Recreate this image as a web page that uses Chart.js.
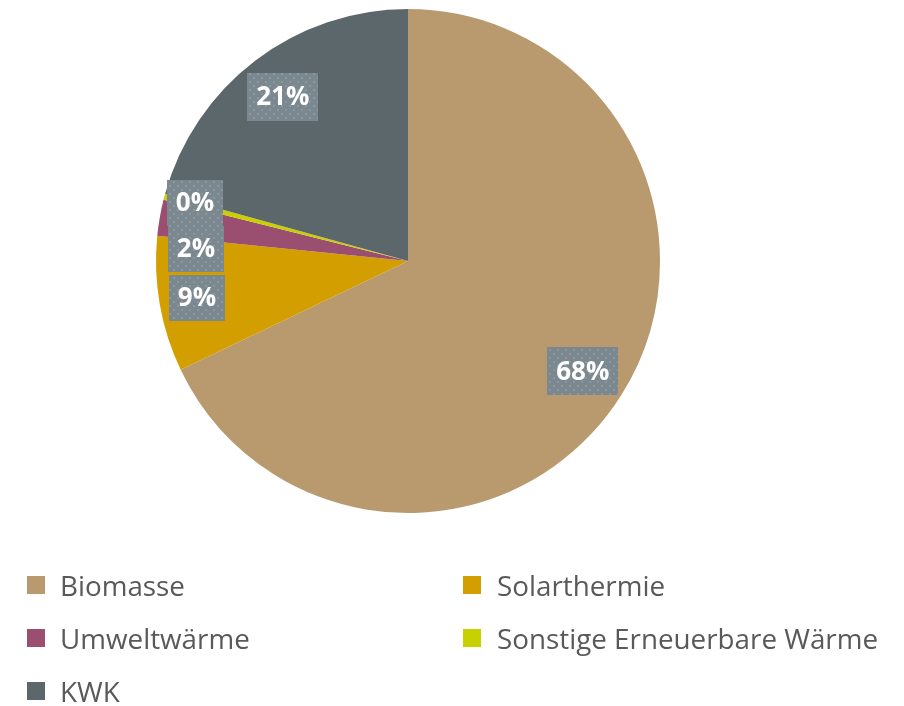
<!DOCTYPE html>
<html>
<head>
<meta charset="utf-8">
<script src="https://cdn.jsdelivr.net/npm/chart.js@4"></script>
<style>
  html, body { margin: 0; padding: 0; background: #fff; }
  #wrap { position: relative; width: 904px; height: 706px; }
  #chart { position: absolute; left: 0; top: 0; }
  .leg { position: absolute; font-family: "Open Sans", sans-serif; font-size: 27.8px; color: #595959; white-space: nowrap; line-height: 30px; }
  .leg span.box { position: absolute; width: 18px; height: 18px; top: 6px; }
</style>
</head>
<body>
<div id="wrap">
  <canvas id="chart" width="904" height="706"></canvas>
</div>
<script>
  // categories and shares (percent)
  var labels = ['Biomasse', 'Solarthermie', 'Umweltwärme', 'Sonstige Erneuerbare Wärme', 'KWK'];
  var values = [67.9, 8.7, 2.3, 0.4, 20.7];
  var colors = ['#B99A6F', '#D39E00', '#9A4E70', '#C8D000', '#5C676C'];

  // dotted grey fill for the data label boxes
  function makePattern(ctx) {
    var c = document.createElement('canvas');
    c.width = 8; c.height = 8;
    var p = c.getContext('2d');
    p.fillStyle = '#7C888F';
    p.fillRect(0, 0, 8, 8);
    p.fillStyle = '#8C979D';
    p.fillRect(1, 1, 2, 2);
    p.fillRect(5, 5, 2, 2);
    return ctx.createPattern(c, 'repeat');
  }

  // draws the percentage boxes; small slices get stacked on top of each other
  const boxLabels = {
    id: 'boxLabels',
    afterDatasetsDraw(chart) {
      const ctx = chart.ctx;
      const meta = chart.getDatasetMeta(0);
      const data = chart.data.datasets[0].data;
      const total = data.reduce((a, b) => a + b, 0);
      const pattern = makePattern(ctx);
      ctx.save();
      ctx.font = 'bold 26px "Open Sans", sans-serif';
      ctx.textAlign = 'center';
      ctx.textBaseline = 'middle';
      var placed = [];
      meta.data.forEach((arc, i) => {
        const p = arc.getProps(['x', 'y', 'startAngle', 'endAngle', 'outerRadius'], true);
        const mid = (p.startAngle + p.endAngle) / 2;
        const small = (p.endAngle - p.startAngle) < 0.6;
        const r = p.outerRadius * (small ? 0.85 : 0.82);
        var x = p.x + Math.cos(mid) * r;
        var y = p.y + Math.sin(mid) * r;
        const txt = Math.round(data[i] / total * 100) + '%';
        const w = ctx.measureText(txt).width + 18;
        const h = small ? 46 : 48;
        const prev = placed[placed.length - 1];
        if (small && prev && prev.small) {
          x = prev.x - prev.w / 2 + w / 2 - 1;
          y = prev.y - (prev.h + h) / 2 - (placed.length === 2 ? 3 : 0);
        }
        placed.push({ x: x, y: y, w: w, h: h, txt: txt, small: small });
      });
      placed.forEach((b) => {
        ctx.fillStyle = pattern;
        ctx.fillRect(Math.round(b.x - b.w / 2), Math.round(b.y - b.h / 2), Math.round(b.w), b.h);
        ctx.fillStyle = '#FFFFFF';
        ctx.fillText(b.txt, b.x, b.y + 1);
      });
      ctx.restore();
    }
  };

  const ctx = document.getElementById('chart').getContext('2d');
  const chart = new Chart(ctx, {
    type: 'pie',
    data: {
      labels: labels,
      datasets: [{
        data: values,
        backgroundColor: colors,
        borderWidth: 0
      }]
    },
    options: {
      responsive: false,
      animation: false,
      layout: { padding: { top: 9, bottom: 193, left: 156, right: 244 } },
      plugins: {
        legend: { display: false },
        tooltip: { enabled: false }
      }
    },
    plugins: [boxLabels]
  });

  // two-column legend under the pie
  const wrap = document.getElementById('wrap');
  const legPos = [[27, 570], [463, 570], [27, 623], [463, 623], [27, 676]];
  labels.forEach((name, i) => {
    const d = document.createElement('div');
    d.className = 'leg';
    d.style.left = legPos[i][0] + 'px';
    d.style.top = legPos[i][1] + 'px';
    d.innerHTML = '<span class="box" style="left:0;background:' + colors[i] + '"></span>' +
      '<span style="position:relative;left:' + (i % 2 ? 34 : 33) + 'px">' + name + '</span>';
    wrap.appendChild(d);
  });
</script>
</body>
</html>
